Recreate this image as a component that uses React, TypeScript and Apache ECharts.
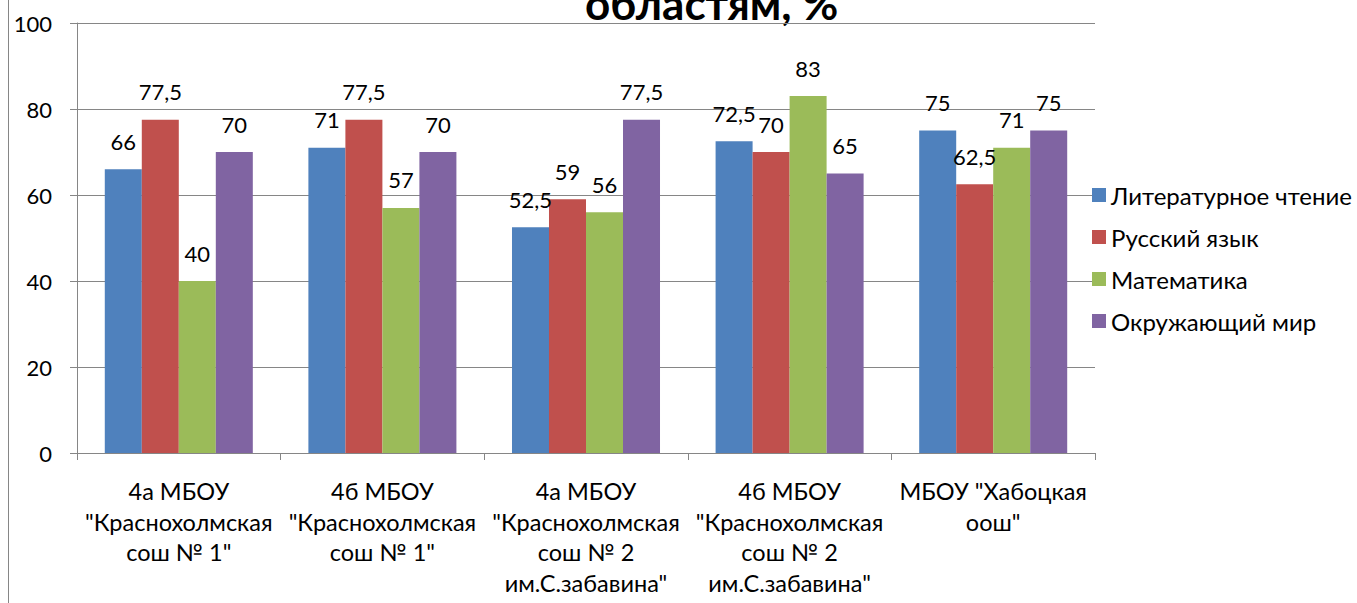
import React, { useEffect, useRef } from "react";
import * as echarts from "echarts";

const categories = [
  '4а МБОУ\n"Краснохолмская\nсош № 1"',
  '4б МБОУ\n"Краснохолмская\nсош № 1"',
  '4а МБОУ\n"Краснохолмская\nсош № 2\nим.С.забавина"',
  '4б МБОУ\n"Краснохолмская\nсош № 2\nим.С.забавина"',
  'МБОУ "Хабоцкая\nоош"',
];
const seriesNames = ["Литературное чтение", "Русский язык", "Математика", "Окружающий мир"];
const literature = [66, 71, 52.5, 72.5, 75];
const russian = [77.5, 77.5, 59, 70, 62.5];
const math = [40, 57, 56, 83, 71];
const world = [70, 70, 77.5, 65, 75];
const colors = ["#4F81BD", "#C0504D", "#9BBB59", "#8064A2"];
const titleText = "областям, %";

const FONT = "Lato, 'Open Sans', sans-serif";

export default function App() {
  const ref = useRef<HTMLDivElement>(null);
  useEffect(() => {
    if (!ref.current) return;
    const chart = echarts.init(ref.current, undefined, { renderer: "svg" });
    const values = [literature, russian, math, world];
    chart.setOption({
      animation: false,
      backgroundColor: "#ffffff",
      textStyle: { fontFamily: FONT },
      grid: { left: 77, right: 262, top: 23, bottom: 150, containLabel: false },
      legend: {
        orient: "vertical",
        left: 1087,
        top: 178,
        itemWidth: 14,
        itemHeight: 14,
        itemGap: 18,
        icon: "rect",
        textStyle: { fontSize: 24, color: "#000", fontFamily: FONT },
        data: seriesNames,
      },
      xAxis: {
        type: "category",
        data: categories,
        axisLine: { lineStyle: { color: "#868686", width: 1 } },
        axisTick: { show: true, length: 7, lineStyle: { color: "#868686" } },
        axisLabel: {
          interval: 0,
          fontSize: 23.5,
          color: "#000",
          lineHeight: 30.5,
          margin: 23,
          fontFamily: FONT,
          align: "center",
        },
      },
      yAxis: {
        type: "value",
        min: 0,
        max: 100,
        interval: 20,
        axisLine: { show: true, lineStyle: { color: "#868686", width: 1 } },
        axisTick: { show: true, length: 7, lineStyle: { color: "#868686" } },
        splitLine: { show: true, lineStyle: { color: "#868686", width: 1 } },
        axisLabel: { fontSize: 22, color: "#000", margin: 25, fontFamily: FONT },
      },
      series: seriesNames.map((name, i) => ({
        name,
        type: "bar",
        data: values[i],
        barGap: "0%",
        barCategoryGap: "27.3%",
        itemStyle: { color: colors[i] },
        label: {
          show: true,
          position: "top",
          distance: 17,
          fontSize: 22,
          color: "#000",
          fontFamily: FONT,
          formatter: (p: any) => String(p.value).replace(".", ","),
        },
      })),
      graphic: [
        {
          type: "line",
          shape: { x1: 8.5, y1: 0, x2: 8.5, y2: 603 },
          style: { stroke: "#868686", lineWidth: 1 },
        },
        {
          type: "text",
          left: 585,
          top: -19,
          style: {
            text: titleText,
            font: `bold 44px ${FONT}`,
            fill: "#000",
          },
        },
      ],
    });
    return () => chart.dispose();
  }, []);
  return (
    <div
      ref={ref}
      style={{ position: "absolute", left: 0, top: 0, width: 1357, height: 603 }}
    />
  );
}
